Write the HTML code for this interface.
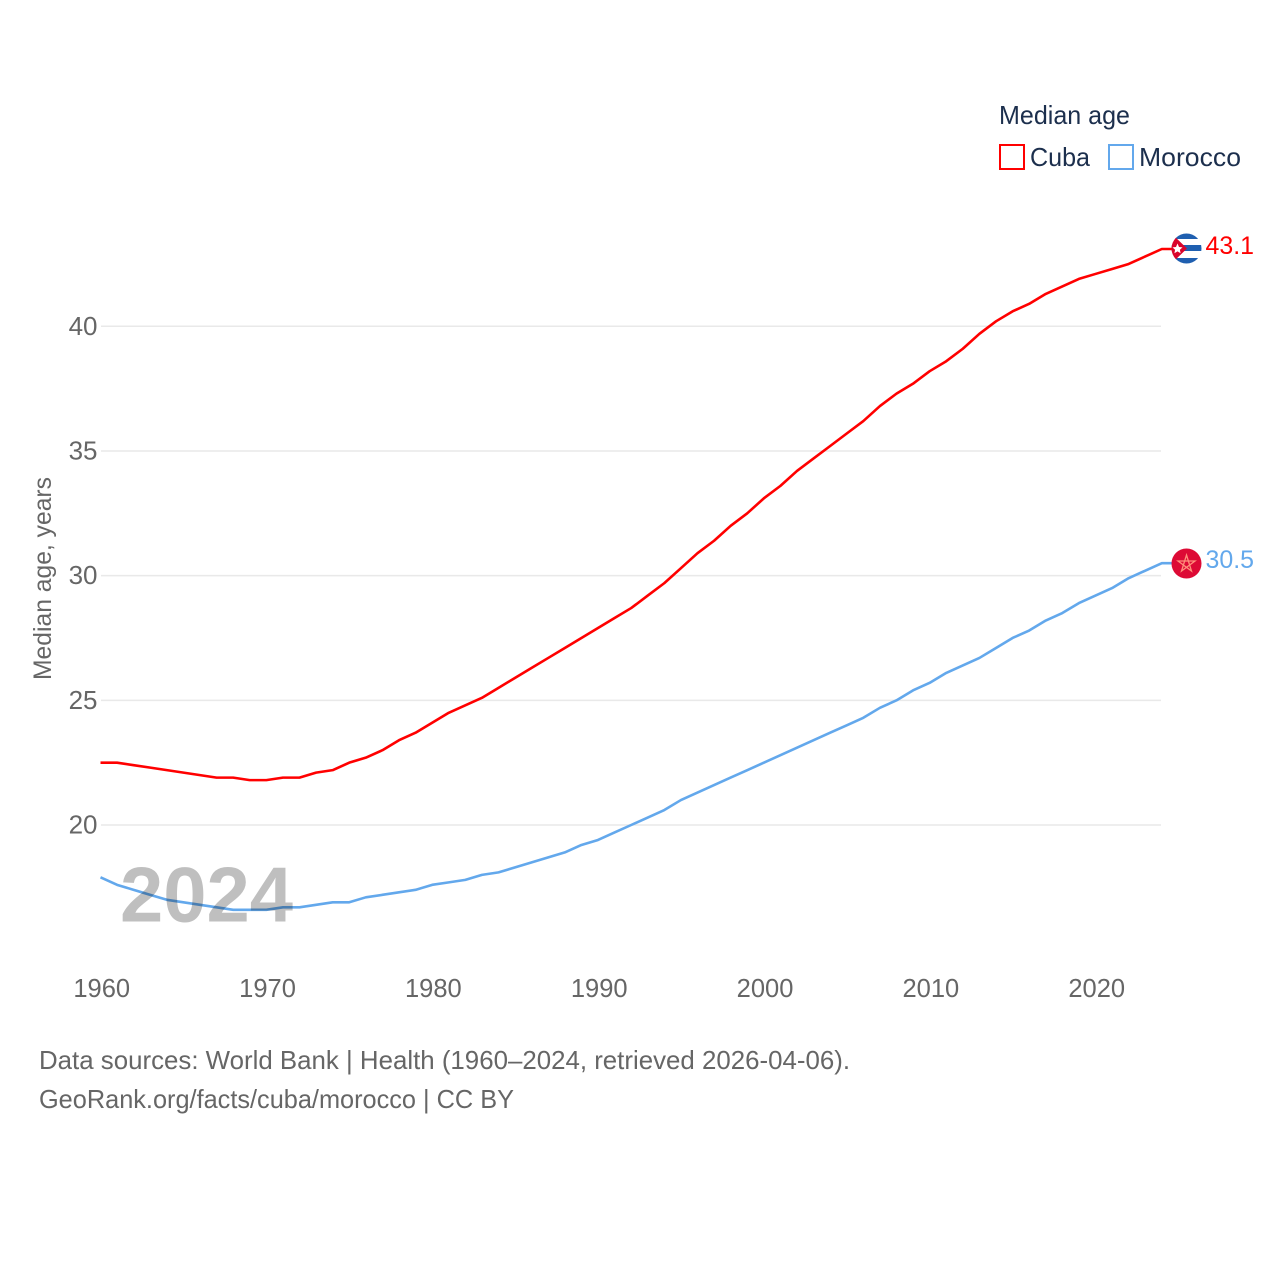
<!DOCTYPE html>
<html lang="en">
<head>
<meta charset="utf-8">
<title>Median age: Cuba vs Morocco</title>
<style>
html,body{margin:0;padding:0;background:#fff;width:1280px;height:1280px;overflow:hidden}
svg{display:block}
text{font-family:"Liberation Sans",sans-serif}
</style>
</head>
<body>
<svg id="chart" xmlns="http://www.w3.org/2000/svg" width="1280" height="1280" viewBox="0 0 1280 1280">
  <defs>
    <clipPath id="flag-clip-cuba"><circle cx="1186.5" cy="248.5" r="15"/></clipPath>
    <clipPath id="flag-clip-morocco"><circle cx="1186.5" cy="563.5" r="15"/></clipPath>
  </defs>
  <rect x="0" y="0" width="1280" height="1280" fill="#ffffff"/>
  <g id="grid"></g>
  <g id="y-ticks"></g>
  <g id="x-ticks"></g>
  <text transform="translate(51,680) rotate(-90)" font-size="25" fill="#666666" textLength="203" lengthAdjust="spacingAndGlyphs">Median age, years</text>
  <g id="series"></g>
  <text x="120" y="921.5" font-size="78" font-weight="700" fill="#bfbfbf" style="mix-blend-mode:multiply" textLength="173" lengthAdjust="spacingAndGlyphs">2024</text>

  <g>
    <text x="999" y="124" font-size="26" fill="#1c2f4d" textLength="131" lengthAdjust="spacingAndGlyphs">Median age</text>
    <rect x="1000" y="145" width="24" height="24" fill="#ffffff" stroke="#ff0000" stroke-width="2"/>
    <text x="1030" y="166" font-size="26" fill="#1c2f4d" textLength="60" lengthAdjust="spacingAndGlyphs">Cuba</text>
    <rect x="1109" y="145" width="24" height="24" fill="#ffffff" stroke="#63a8ec" stroke-width="2"/>
    <text x="1139" y="166" font-size="26" fill="#1c2f4d" textLength="102" lengthAdjust="spacingAndGlyphs">Morocco</text>
  </g>

  <g clip-path="url(#flag-clip-cuba)">
    <rect x="1171" y="233" width="31" height="31" fill="#ffffff"/>
    <rect x="1171" y="233" width="31" height="6" fill="#1f5fb0"/>
    <rect x="1171" y="245" width="31" height="6" fill="#1f5fb0"/>
    <rect x="1171" y="258" width="31" height="6" fill="#1f5fb0"/>
    <polygon points="1171,233 1171,264 1187,248.5" fill="#d9042b"/>
    <polygon points="1177.5,243.5 1179,247 1182.5,247.4 1179.9,249.7 1180.6,253.2 1177.5,251.4 1174.4,253.2 1175.1,249.7 1172.5,247.4 1176,247" fill="#ffffff"/>
  </g>
  <g clip-path="url(#flag-clip-morocco)">
    <rect x="1171" y="548" width="31" height="31" fill="#dd0a35"/>
    <polygon points="1186.5,555 1191.5,571 1178,561 1195,561 1181.5,571" fill="none" stroke="#ff8f7a" stroke-width="1.3"/>
  </g>
  <text id="end-label-cuba" x="1205.5" y="254" font-size="25" fill="#ff0000" textLength="48.5" lengthAdjust="spacingAndGlyphs">43.1</text>
  <text id="end-label-morocco" x="1205.5" y="568" font-size="25" fill="#63a8ec" textLength="48.5" lengthAdjust="spacingAndGlyphs">30.5</text>

  <g>
    <text x="39" y="1069" font-size="26" fill="#666666" textLength="811" lengthAdjust="spacingAndGlyphs">Data sources: World Bank | Health (1960–2024, retrieved 2026-04-06).</text>
    <text x="39" y="1108" font-size="26" fill="#666666" textLength="475" lengthAdjust="spacingAndGlyphs">GeoRank.org/facts/cuba/morocco | CC BY</text>
  </g>
</svg>
<script>
const startYear = 1960;
const xTickYears = [1960, 1970, 1980, 1990, 2000, 2010, 2020];
const yTickValues = [20, 25, 30, 35, 40];
const cubaValues = [22.5,22.5,22.4,22.3,22.2,22.1,22.0,21.9,21.9,21.8,21.8,21.9,21.9,22.1,22.2,22.5,22.7,23.0,23.4,23.7,24.1,24.5,24.8,25.1,25.5,25.9,26.3,26.7,27.1,27.5,27.9,28.3,28.7,29.2,29.7,30.3,30.9,31.4,32.0,32.5,33.1,33.6,34.2,34.7,35.2,35.7,36.2,36.8,37.3,37.7,38.2,38.6,39.1,39.7,40.2,40.6,40.9,41.3,41.6,41.9,42.1,42.3,42.5,42.8,43.1];
const moroccoValues = [17.9,17.6,17.4,17.2,17.0,16.9,16.8,16.7,16.6,16.6,16.6,16.7,16.7,16.8,16.9,16.9,17.1,17.2,17.3,17.4,17.6,17.7,17.8,18.0,18.1,18.3,18.5,18.7,18.9,19.2,19.4,19.7,20.0,20.3,20.6,21.0,21.3,21.6,21.9,22.2,22.5,22.8,23.1,23.4,23.7,24.0,24.3,24.7,25.0,25.4,25.7,26.1,26.4,26.7,27.1,27.5,27.8,28.2,28.5,28.9,29.2,29.5,29.9,30.2,30.5];

const NS = 'http://www.w3.org/2000/svg';
const xScale = function (year) { return 100.5 + (year - 1960) * (1095.5 - 100.5) / 60; };
const yScale = function (value) { return 825 - (value - 20) * (825 - 326.3) / 20; };

const gridGroup = document.getElementById('grid');
const yTickGroup = document.getElementById('y-ticks');
const xTickGroup = document.getElementById('x-ticks');
const seriesGroup = document.getElementById('series');

yTickValues.forEach(function (value) {
  const line = document.createElementNS(NS, 'line');
  
  
  line.setAttribute('x1', 101);
  line.setAttribute('x2', 1161);
  line.setAttribute('y1', yScale(value));
  line.setAttribute('y2', yScale(value));
  line.setAttribute('stroke', '#e9e9e9');
  line.setAttribute('stroke-width', '1.5');
  gridGroup.appendChild(line);

  const label = document.createElementNS(NS, 'text');
  
  
  label.setAttribute('x', 97.5);
  label.setAttribute('y', yScale(value) + 8.5);
  label.setAttribute('text-anchor', 'end');
  label.setAttribute('font-size', '26');
  label.setAttribute('fill', '#666666');
  label.textContent = String(value);
  yTickGroup.appendChild(label);
});

xTickYears.forEach(function (year) {
  const label = document.createElementNS(NS, 'text');
  
  
  label.setAttribute('x', xScale(year) + 1.2);
  label.setAttribute('y', 997);
  label.setAttribute('text-anchor', 'middle');
  label.setAttribute('font-size', '25.5');
  label.setAttribute('fill', '#666666');
  label.textContent = String(year);
  xTickGroup.appendChild(label);
});

function buildPath(values) {
  const points = values.map(function (value, i) {
    return xScale(startYear + i).toFixed(2) + ' ' + yScale(value).toFixed(2);
  });
  const last = values[values.length - 1];
  return 'M' + points.join('L') + 'L1173 ' + yScale(last).toFixed(2);
}

const cubaLine = document.createElementNS(NS, 'path');


cubaLine.setAttribute('d', buildPath(cubaValues));
cubaLine.setAttribute('fill', 'none');
cubaLine.setAttribute('stroke', '#ff0000');
cubaLine.setAttribute('stroke-width', '2.6');
cubaLine.setAttribute('stroke-linejoin', 'round');
seriesGroup.appendChild(cubaLine);

const moroccoLine = document.createElementNS(NS, 'path');


moroccoLine.setAttribute('d', buildPath(moroccoValues));
moroccoLine.setAttribute('fill', 'none');
moroccoLine.setAttribute('stroke', '#63a8ec');
moroccoLine.setAttribute('stroke-width', '2.6');
moroccoLine.setAttribute('stroke-linejoin', 'round');
seriesGroup.appendChild(moroccoLine);
</script>
</body>
</html>
